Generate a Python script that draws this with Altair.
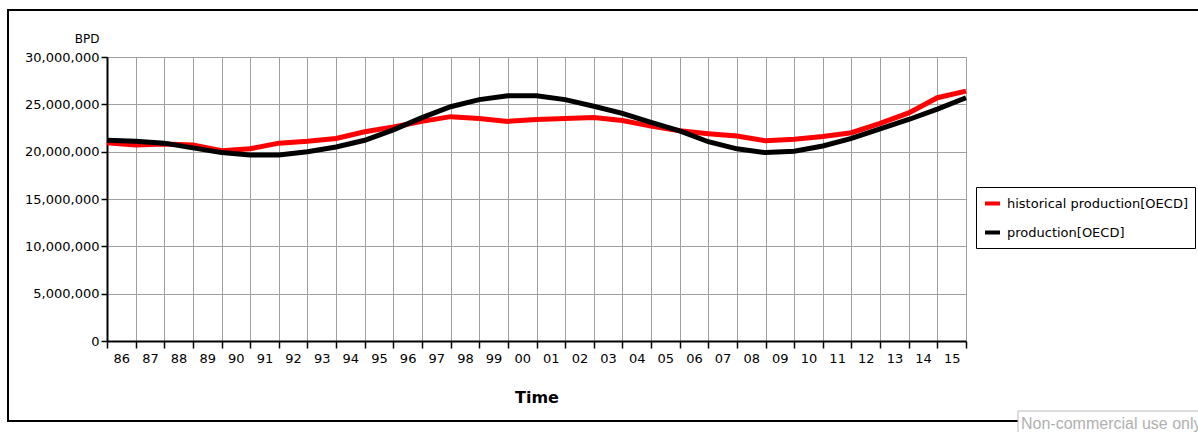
import altair as alt
import pandas as pd

# ---- data, barrels per day ----
years = list(range(1986, 2017))
historical = [20.95e6, 20.7e6, 20.8e6, 20.7e6, 20.1e6, 20.3e6, 20.9e6, 21.1e6, 21.4e6, 22.1e6,
              22.6e6, 23.2e6, 23.7e6, 23.5e6, 23.2e6, 23.4e6, 23.5e6, 23.6e6, 23.3e6, 22.7e6,
              22.2e6, 21.9e6, 21.65e6, 21.15e6, 21.3e6, 21.6e6, 22.0e6, 23.0e6, 24.1e6, 25.7e6,
              26.4e6]
production = [21.2e6, 21.1e6, 20.9e6, 20.4e6, 19.9e6, 19.65e6, 19.65e6, 20.0e6, 20.5e6, 21.2e6,
              22.3e6, 23.6e6, 24.75e6, 25.5e6, 25.9e6, 25.9e6, 25.5e6, 24.8e6, 24.05e6, 23.1e6,
              22.2e6, 21.05e6, 20.3e6, 19.9e6, 20.05e6, 20.6e6, 21.4e6, 22.4e6, 23.4e6, 24.5e6,
              25.7e6]
series_names = ["historical production[OECD]", "production[OECD]"]
series_colors = ["#ff0000", "#000000"]
y_ticks = [0, 5e6, 10e6, 15e6, 20e6, 25e6, 30e6]
watermark = "Non-commercial use only"

rows = []
for name, vals in zip(series_names, [historical, production]):
    for yr, v in zip(years, vals):
        rows.append({"Time": yr, "BPD": v, "series": name})
df = pd.DataFrame(rows)

FONT = "DejaVu Sans"
W, H = 859, 284
PL, PT = 107, 57

x_enc = alt.X(
    "Time:Q",
    scale=alt.Scale(domain=[1986, 2016], nice=False, zero=False),
    axis=alt.Axis(
        values=years, format="d",
        labelExpr="datum.value >= 2016 ? '' : substring(datum.label, 2)",
        labelOffset=14.3, labelFlush=False, labelOverlap=False,
        tickSize=7, tickColor="black", tickWidth=1.5,
        domainColor="black", domainWidth=2,
        grid=True, gridColor="#a0a0a0", gridWidth=1,
        labelFont=FONT, labelFontSize=13, labelColor="black", labelPadding=4,
        title="Time", titleFont=FONT, titleFontSize=16, titleFontWeight="bold",
        titleColor="black", titleY=61, titleBaseline="alphabetic",
    ),
)
y_enc = alt.Y(
    "BPD:Q",
    scale=alt.Scale(domain=[0, 30e6], nice=False),
    axis=alt.Axis(
        values=y_ticks, format=",d",
        tickSize=6, tickColor="black", tickWidth=1.5,
        domainColor="black", domainWidth=2,
        grid=True, gridColor="#a0a0a0", gridWidth=1,
        labelFont=FONT, labelFontSize=13, labelColor="black", labelPadding=2,
        title="BPD", titleAngle=0, titleAlign="right", titleBaseline="alphabetic",
        titleX=-8, titleY=-15, titleFont=FONT, titleFontSize=12,
        titleFontWeight="normal", titleColor="black",
    ),
)

lines = alt.Chart(df).mark_line(strokeWidth=5).encode(
    x=x_enc,
    y=y_enc,
    color=alt.Color(
        "series:N",
        scale=alt.Scale(domain=series_names, range=series_colors),
        legend=alt.Legend(
            title=None, orient="none", legendX=869, legendY=130,
            strokeColor="black", fillColor="white", padding=7, cornerRadius=0,
            symbolType="stroke", symbolStrokeWidth=4, symbolSize=225,
            labelFont=FONT, labelFontSize=13, labelColor="black", labelLimit=400,
            labelOffset=5, rowPadding=11,
        ),
    ),
    order=alt.Order("Time:Q"),
)

one = pd.DataFrame({"a": [0]})
frame = alt.Chart(one).mark_rect(filled=False, stroke="black", strokeWidth=2).encode(
    x=alt.value(8 - PL), x2=alt.value(1300 - PL),
    y=alt.value(10 - PT), y2=alt.value(421 - PT),
)
wm_box = alt.Chart(one).mark_rect(fill="white", stroke="#bbbbbb", strokeWidth=1).encode(
    x=alt.value(1018 - PL), x2=alt.value(1300 - PL),
    y=alt.value(411 - PT), y2=alt.value(460 - PT),
)
wm_text = alt.Chart(one).mark_text(
    align="left", baseline="alphabetic", font="Liberation Sans", fontSize=16, color="#b0b0b0"
).encode(
    x=alt.value(1021 - PL), y=alt.value(429 - PT), text=alt.value(watermark)
)

chart = alt.layer(frame, lines, wm_box, wm_text).properties(
    width=W, height=H,
    autosize=alt.AutoSizeParams(type="none"),
    padding={"left": PL, "top": PT, "right": 1198 - PL - W, "bottom": 432 - PT - H},
    background="white",
).configure_view(strokeWidth=0)

chart.save("out.html", embed_options={"renderer": "svg", "actions": False})
